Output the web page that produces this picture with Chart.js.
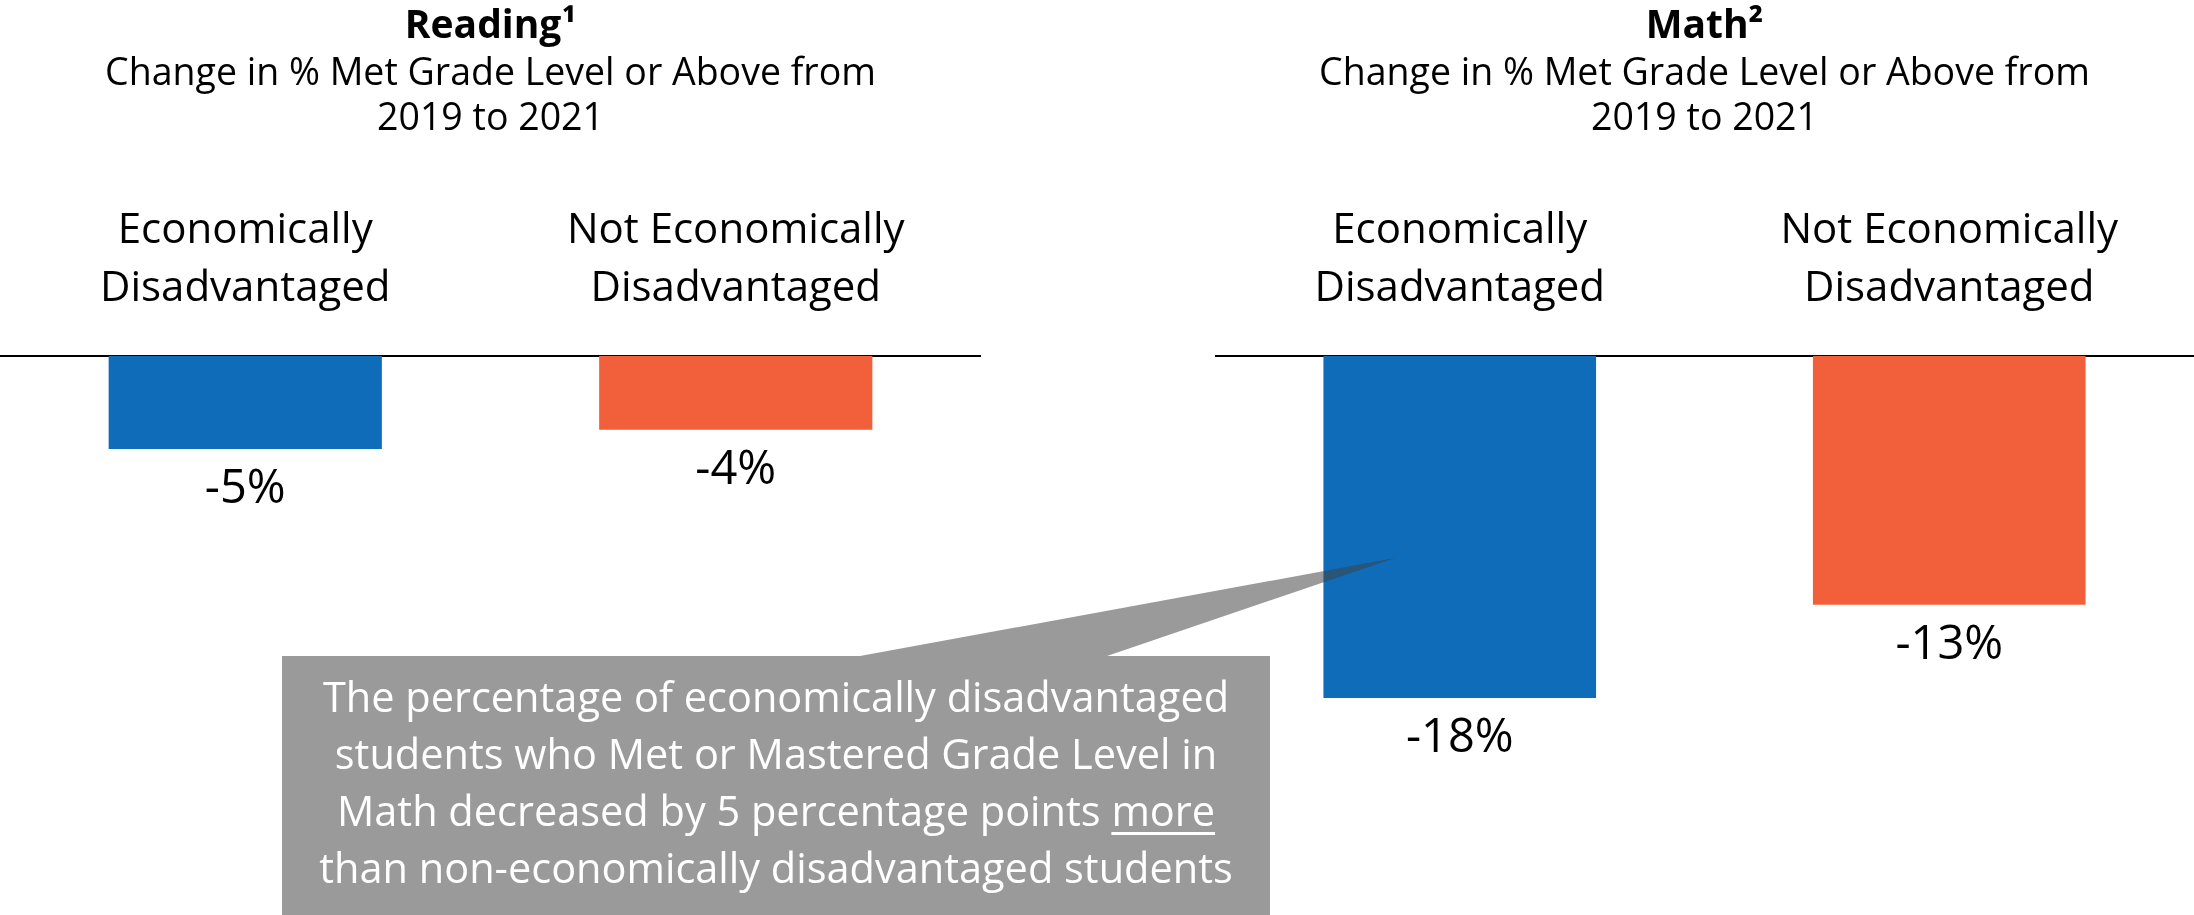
<!DOCTYPE html>
<html>
<head>
<meta charset="utf-8">
<script src="https://cdn.jsdelivr.net/npm/chart.js@4"></script>
<style>
  body { margin: 0; background: #fff; font-family: 'Open Sans', sans-serif; }
  #page { position: relative; width: 2194px; height: 915px; overflow: hidden; }
  canvas { position: absolute; top: 0; }
  #leitura { left: 0; }
  #mat { left: 1215px; }
  #callout { position: absolute; left: 0; top: 0; }
  #nota {
    position: absolute; left: 282px; top: 656px; width: 988px;
    padding-top: 12px; text-align: center; color: #fff;
    font-size: 41.5px; line-height: 57px;
  }
  #nota u { text-decoration-thickness: 3px; text-underline-offset: 6px; }
</style>
</head>
<body>
<div id="page">
  <canvas id="leitura" width="981" height="915"></canvas>
  <canvas id="mat" width="979" height="915"></canvas>
  <svg id="callout" width="2194" height="915">
    <path d="M282,656 L860,656 L1395,558 L1107,656 L1270,656 L1270,915 L282,915 Z" fill="rgba(64,64,64,0.53)"/>
  </svg>
  <div id="nota">The percentage of economically disadvantaged<br>students who Met or Mastered Grade Level in<br>Math decreased by 5 percentage points <u>more</u><br>than non-economically disadvantaged students</div>
</div>
<script>
const categorias = [['Economically', 'Disadvantaged'], ['Not Economically', 'Disadvantaged']];
const valoresLeitura = [-4.9, -3.9];
const valoresMat = [-18.0, -13.1];
const titulos = ['Reading¹', 'Math²'];
const subtitulo = ['Change in % Met Grade Level or Above from', '2019 to 2021'];
const cores = ['#0e6cb8', '#f2603b'];

const fonte = 'Open Sans';

// rotulo embaixo de cada barra
const rotulosBarras = {
  id: 'rotulosBarras',
  afterDatasetsDraw(chart) {
    const ctx = chart.ctx;
    const meta = chart.getDatasetMeta(0);
    const dados = chart.data.datasets[0].data;
    ctx.save();
    ctx.font = '47px "' + fonte + '"';
    ctx.fillStyle = '#000';
    ctx.textAlign = 'center';
    ctx.textBaseline = 'middle';
    meta.data.forEach((barra, i) => {
      ctx.fillText(Math.round(dados[i]) + '%', barra.x, barra.y + 41);
    });
    ctx.restore();
  }
};

function criarGrafico(id, titulo, valores) {
  return new Chart(document.getElementById(id), {
    type: 'bar',
    data: {
      labels: categorias,
      datasets: [{
        data: valores,
        backgroundColor: cores,
        barPercentage: 0.557,
        categoryPercentage: 1
      }]
    },
    options: {
      responsive: false,
      animation: false,
      layout: { padding: { bottom: 179 } },
      scales: {
        x: {
          position: 'top',
          grid: { display: false },
          border: { display: true, color: '#000', width: 2 },
          ticks: {
            color: '#000',
            padding: 30,
            maxRotation: 0,
            font: { family: fonte, size: 42, lineHeight: 1.38 }
          }
        },
        y: { display: false, min: -20, max: 0 }
      },
      plugins: {
        legend: { display: false },
        tooltip: { enabled: false },
        title: {
          display: true,
          text: titulo,
          color: '#000',
          padding: { top: 3, bottom: 2 },
          font: { family: fonte, size: 39, weight: 'bold', lineHeight: 1.2 }
        },
        subtitle: {
          display: true,
          text: subtitulo,
          color: '#000',
          padding: { top: 0, bottom: 30 },
          font: { family: fonte, size: 37.5, lineHeight: 1.2 }
        }
      }
    },
    plugins: [rotulosBarras]
  });
}

criarGrafico('leitura', titulos[0], valoresLeitura);
criarGrafico('mat', titulos[1], valoresMat);
</script>
</body>
</html>
